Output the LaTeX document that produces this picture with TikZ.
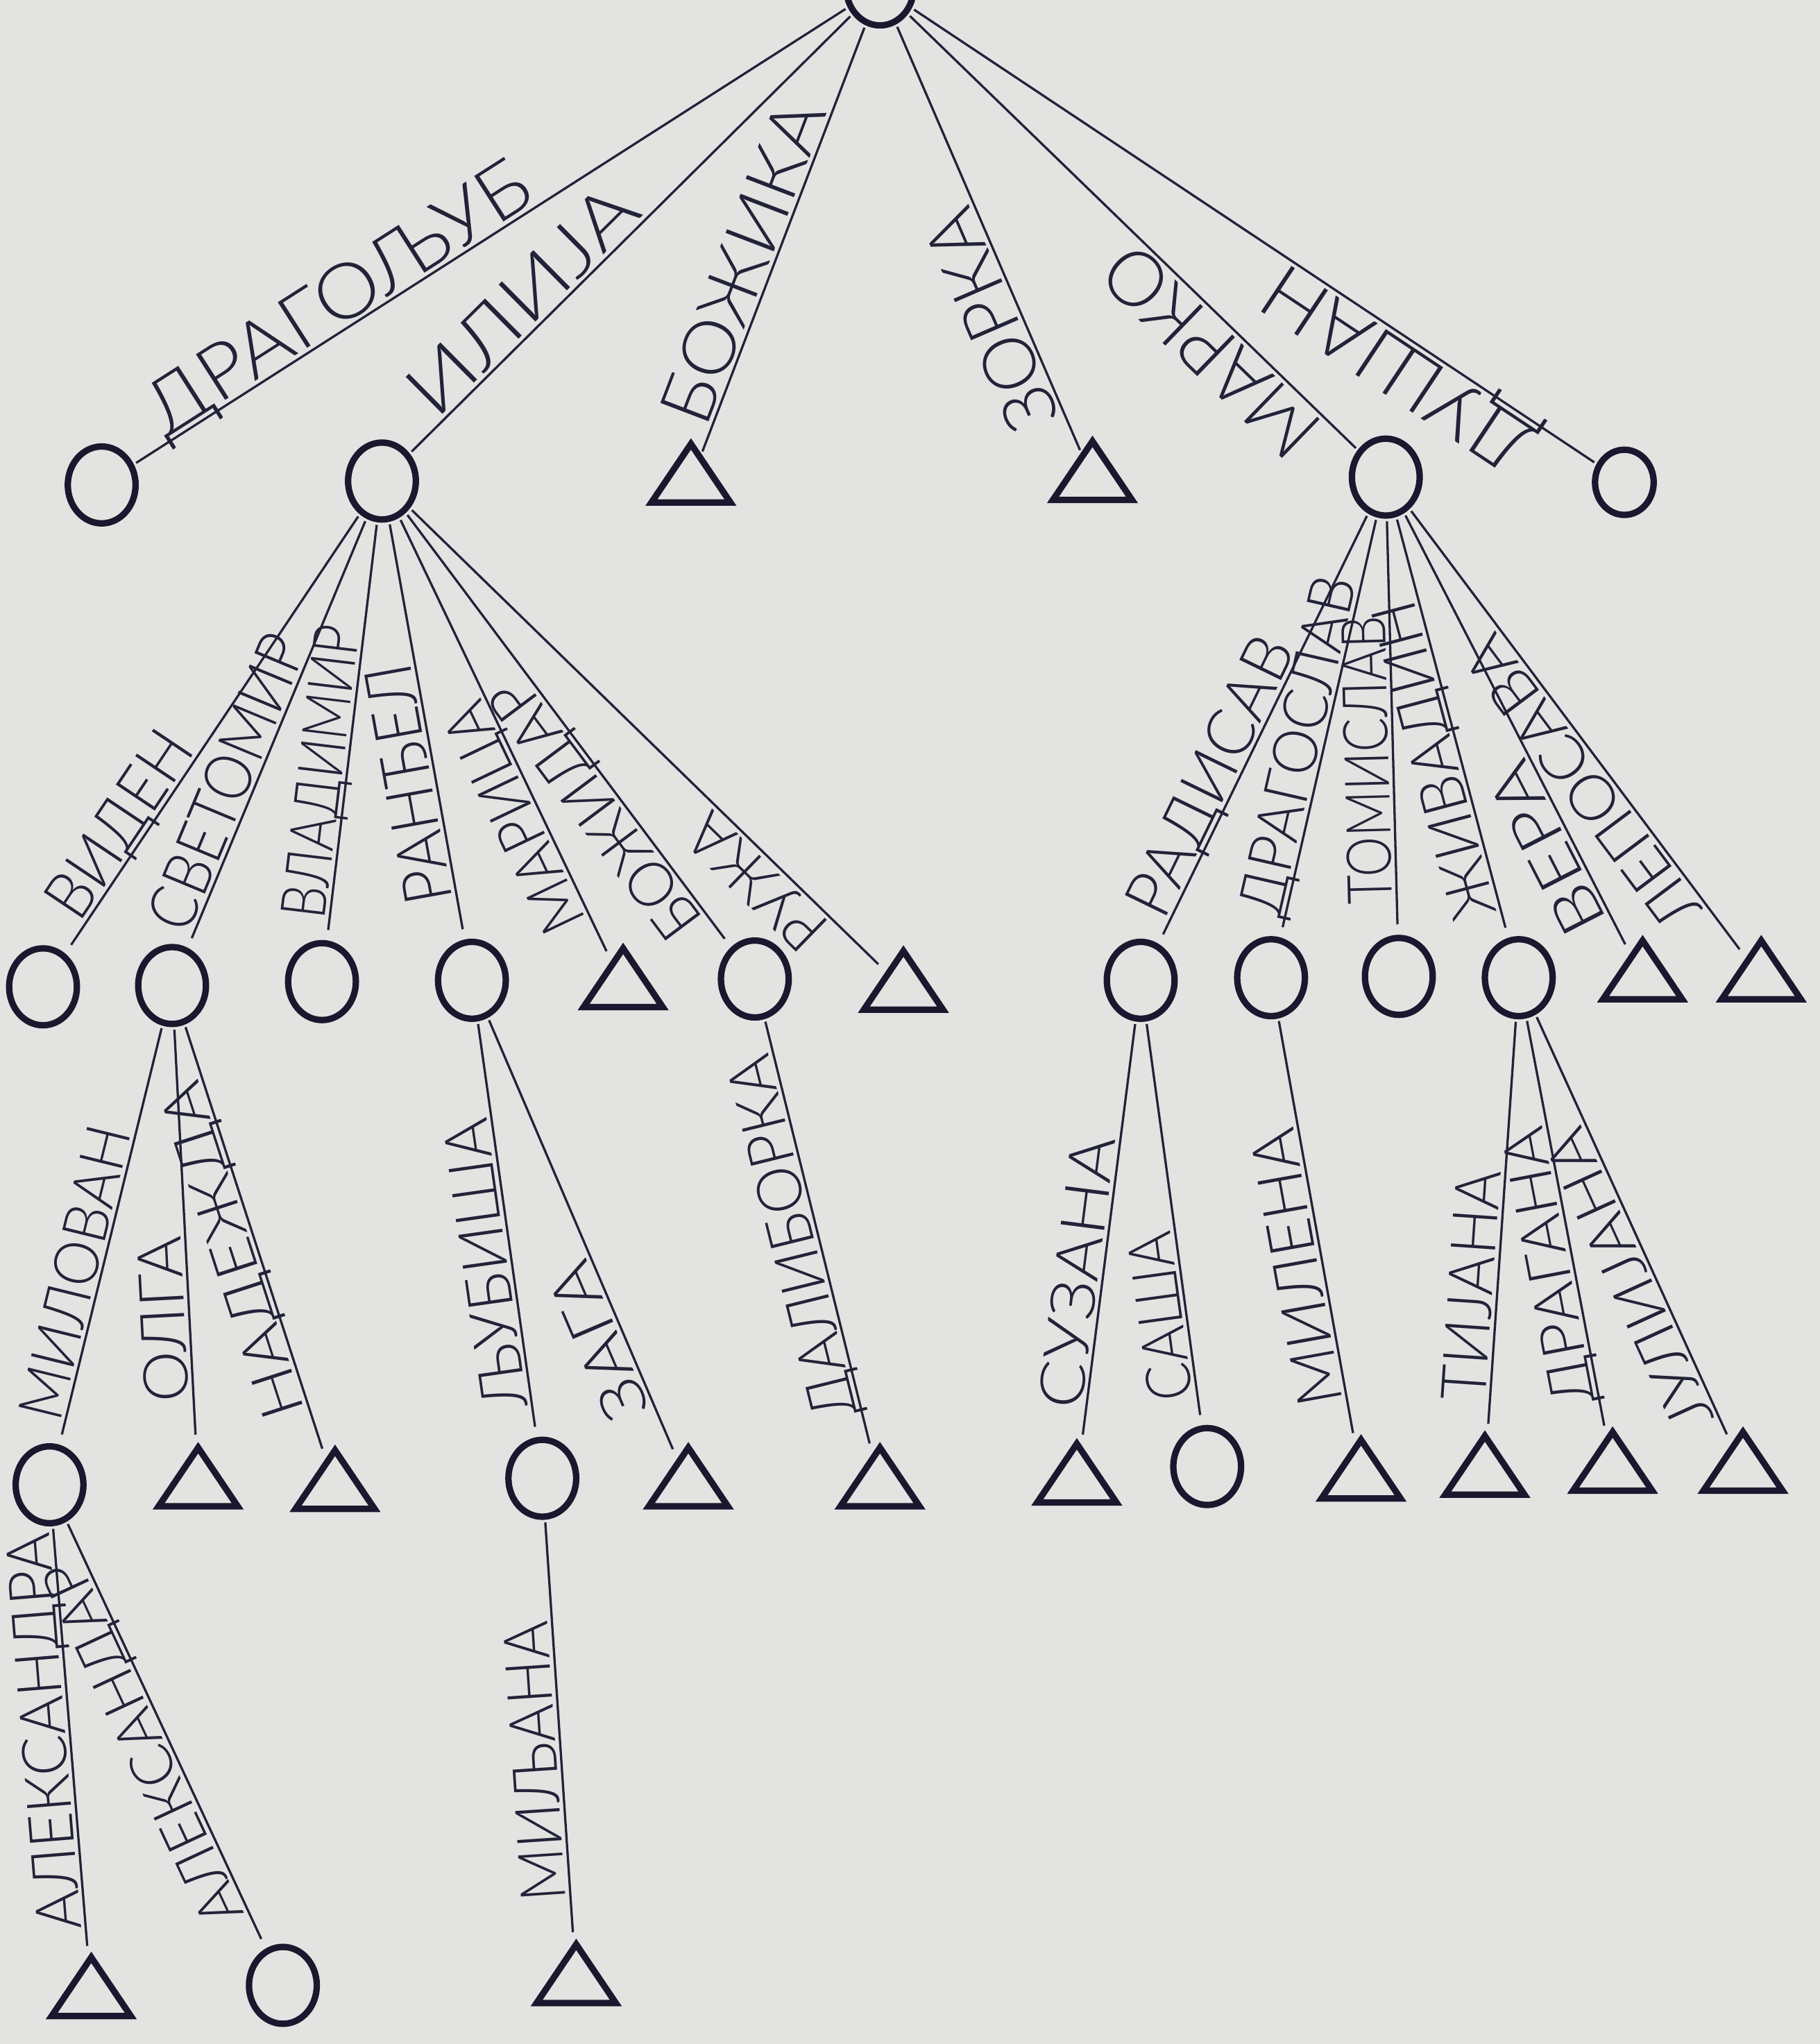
\documentclass[tikz,border=0pt]{standalone}
\usepackage{fontspec}
\IfFontExistsTF{Lato Light}{\setmainfont{Lato Light}}{%
 \IfFontExistsTF{Open Sans Light}{\setmainfont{Open Sans Light}}{%
  \IfFontExistsTF{Noto Sans Light}{\setmainfont{Noto Sans Light}}{%
   \IfFontExistsTF{Fira Sans Light}{\setmainfont{Fira Sans Light}}{\setmainfont{DejaVu Sans}}}}}
\usepackage{graphicx}
\usetikzlibrary{shapes.geometric,decorations.markings}
\definecolor{paper}{RGB}{227,228,226}
\definecolor{ink}{RGB}{26,24,46}
\definecolor{inkl}{RGB}{34,34,56}
\newdimen\lu \lu=0.02cm
% #1 style, #2 child, #3 parent, #4 start distance, #5 width, #6 height, #7 text
\newcommand{\kin}[7][lvx]{%
  \draw[ln,#1,postaction={decorate,decoration={markings,
     mark=at position #4*0.02cm with {\node[lab] at (0,0.07cm) {\resizebox{#5\lu}{#6\lu}{#7}};}}}]
     (#2) -- (#3);}
\begin{document}
\begin{tikzpicture}[x=0.02cm,y=-0.02cm,
  circ/.style={ellipse,draw=ink,line width=2.8pt,minimum width=1.04cm,minimum height=1.18cm,inner sep=0pt},
  dsmall/.style={minimum width=0.9cm,minimum height=1.0cm},
  tri/.style={isosceles triangle,isosceles triangle apex angle=68,shape border rotate=90,
     draw=ink,line width=2.8pt,minimum width=0.9cm,minimum height=0.9cm,inner sep=0pt,anchor=south},
  ln/.style={draw=inkl,line width=1pt,shorten >=0.04cm},
  lvx/.style={shorten <=0.16cm},
  lv1/.style={shorten <=0.04cm},
  lab/.style={transform shape,anchor=base west,inner sep=0pt,text=inkl}]
\useasboundingbox (0,0) rectangle (1396,1568);
\fill[paper] (0,0) rectangle (1396,1568);
\clip (0,0) rectangle (1396,1568);

% level 0 and 1 (triangles are placed by the middle of their base)
\node[circ] (R) at (675,-10) {};
\node[circ] (drag) at (78,372) {};
\node[circ] (ilija) at (293,369) {};
\node[tri] (bozika) at (530,388) {};
\node[tri] (zorka) at (838,386) {};
\node[circ] (marko) at (1063,366) {};
\node[circ,dsmall] (dusan) at (1246,370) {};

% level 2
\node[circ] (viden) at (33,757) {};
\node[circ] (svet) at (132,756) {};
\node[circ] (vlad) at (247,753) {};
\node[circ] (randj) at (362,752) {};
\node[tri] (marica) at (478,775) {};
\node[circ] (bozid) at (579,751) {};
\node[tri] (ruza) at (693,777) {};
\node[circ] (radis) at (875,752) {};
\node[circ] (dragos) at (975,750) {};
\node[circ] (tomis) at (1073,749) {};
\node[circ] (zivad) at (1165,750) {};
\node[tri] (vera) at (1260,769) {};
\node[tri] (lepos) at (1351,769) {};

% level 3
\node[circ] (milov) at (38,1139) {};
\node[tri] (olga) at (152,1158) {};
\node[tri] (nadez) at (257,1160) {};
\node[circ] (ljub) at (416,1134) {};
\node[tri] (zaga) at (528,1158) {};
\node[tri] (dalib) at (675,1158) {};
\node[tri] (suzana) at (826,1155) {};
\node[circ] (sasa) at (926,1125) {};
\node[tri] (milena) at (1044,1152) {};
\node[tri] (tijana) at (1139,1149) {};
\node[tri] (dragana) at (1237,1146) {};
\node[tri] (julij) at (1337,1146) {};

% level 4
\node[tri] (aleksa) at (70,1549) {};
\node[circ] (aleksr) at (217,1523) {};
\node[tri] (miljana) at (442,1539) {};

% connectors with names
\kin[lv1]{drag}{R}{30}{340}{42}{ДРАГОЉУБ}
\kin[lv1]{ilija}{R}{31}{225}{40}{ИЛИЈА}
\kin[lv1]{bozika}{R}{18}{260}{40}{БОЖИКА}
\kin[lv1]{zorka}{R}{30}{179}{40}{ЗОРКА}
\kin[lv1]{marko}{R}{30}{205}{42}{МАРКО}
\kin[lv1]{dusan}{R}{48}{236}{42}{ДУШАН}

\kin{viden}{ilija}{24}{161}{36}{ВИДЕН}
\kin{svet}{ilija}{8}{240}{36}{СВЕТОМИР}
\kin{vlad}{ilija}{14}{226}{34}{ВЛАДИМИР}
\kin{randj}{ilija}{31}{186}{36}{РАНЂЕЛ}
\kin{marica}{ilija}{35}{190}{34}{МАРИЦА}
\kin{bozid}{ilija}{28}{236}{34}{БОЖИДАР}
\kin{ruza}{ilija}{54}{128}{34}{РУЖА}
\kin{radis}{marko}{16}{232}{36}{РАДИСАВ}
\kin{dragos}{marko}{13}{265}{34}{ДРАГОСЛАВ}
\kin{tomis}{marko}{23}{221}{34}{ТОМИСЛАВ}
\kin{zivad}{marko}{20}{250}{34}{ЖИВАДИН}
\kin{vera}{marko}{29}{142}{34}{ВЕРА}
\kin{lepos}{marko}{49}{267}{34}{ЛЕПОСАВА}

\kin{milov}{svet}{15}{230}{34}{МИЛОВАН}
\kin{olga}{svet}{33}{127}{34}{ОЛГА}
\kin{nadez}{svet}{39}{268}{32}{НАДЕЖДА}
\kin{ljub}{randj}{24}{224}{34}{ЉУБИША}
\kin{zaga}{randj}{42}{127}{34}{ЗАГА}
\kin{dalib}{bozid}{32}{285}{34}{ДАЛИБОРКА}
\kin{suzana}{radis}{25}{210}{34}{СУЗАНА}
\kin{sasa}{radis}{21}{130}{34}{САША}
\kin{milena}{dragos}{32}{215}{34}{МИЛЕНА}
\kin{tijana}{zivad}{24}{177}{34}{ТИЈАНА}
\kin{dragana}{zivad}{27}{216}{32}{ДРАГАНА}
\kin{julij}{zivad}{22}{248}{32}{ЈУЛИЈАНА}

\kin{aleksa}{milov}{21}{305}{34}{АЛЕКСАНДРА}
\kin{aleksr}{milov}{30}{303}{32}{АЛЕКСАНДАР}
\kin{miljana}{ljub}{32}{215}{34}{МИЉАНА}
\end{tikzpicture}
\end{document}
